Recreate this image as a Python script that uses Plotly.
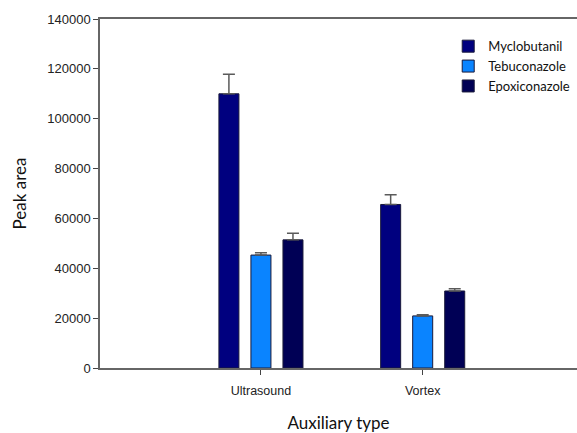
import plotly.graph_objects as go

categories = ["Ultrasound", "Vortex"]
series_names = ["Myclobutanil", "Tebuconazole", "Epoxiconazole"]
myclobutanil = [110000, 65600]
tebuconazole = [45300, 20900]
epoxiconazole = [51400, 30900]
myclobutanil_err = [7800, 3900]
tebuconazole_err = [900, 500]
epoxiconazole_err = [2700, 900]
y_ticks = [0, 20000, 40000, 60000, 80000, 100000, 120000, 140000]

colors = ["#00007F", "#0A84FF", "#000055"]
values = [myclobutanil, tebuconazole, epoxiconazole]
errors = [myclobutanil_err, tebuconazole_err, epoxiconazole_err]

fig = go.Figure()
for name, vals, errs, col in zip(series_names, values, errors, colors):
    fig.add_trace(go.Bar(
        x=categories, y=vals, name=name,
        marker=dict(color=col, line=dict(color="#1a1a3a", width=1)),
        error_y=dict(type="data", array=errs, symmetric=False, arrayminus=[0, 0],
                     color="#5a5a5a", thickness=1.5, width=6),
    ))

fig.update_layout(
    width=577, height=433,
    margin=dict(l=100, r=0, t=19, b=65),
    paper_bgcolor="white", plot_bgcolor="white",
    barmode="group", bargap=0.406, bargroupgap=0.375,
    font=dict(family="Liberation Sans, Arial", size=12, color="#222"),
    showlegend=True,
    legend=dict(x=0.73, y=0.965, xanchor="left", yanchor="top",
                font=dict(family="Lato, Open Sans", size=13, color="#111"),
                bgcolor="rgba(0,0,0,0)", tracegroupgap=0, itemwidth=30),
    xaxis=dict(
        range=[-0.995, 1.954], showline=True, linecolor="#666", linewidth=1.5,
        mirror=True, ticks="outside", ticklen=5, tickcolor="#444",
        showgrid=False, zeroline=False, ticklabelstandoff=5,
        tickfont=dict(family="Liberation Sans, Arial", size=12.5, color="#222"),
        title=dict(text="Auxiliary type", font=dict(family="Lato, Open Sans", size=17, color="#111"),
                   standoff=20),
    ),
    yaxis=dict(
        range=[0, 140000], tickvals=y_ticks, ticktext=[str(v) for v in y_ticks],
        showline=True, linecolor="#666", linewidth=1.5,
        ticks="outside", ticklen=5, tickcolor="#444",
        showgrid=False, zeroline=False,
        tickfont=dict(family="Liberation Sans, Arial", size=13, color="#222"),
        title=dict(text="Peak area", font=dict(family="Lato, Open Sans", size=17, color="#111"),
                   standoff=16),
    ),
)

fig.write_html("out.html")
